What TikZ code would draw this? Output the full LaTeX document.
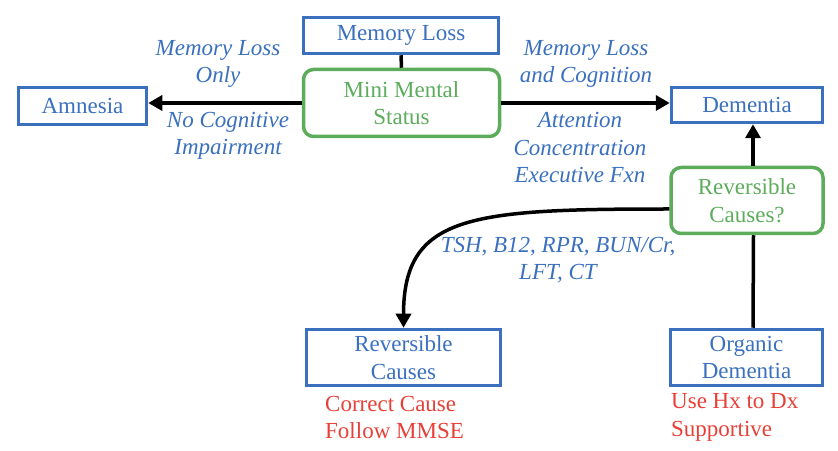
\documentclass[tikz,border=0pt]{standalone}
\usepackage{fontspec}
\setmainfont{Liberation Serif}
\usetikzlibrary{arrows.meta}
\definecolor{boxblue}{RGB}{58,112,190}
\definecolor{boxgreen}{RGB}{92,172,92}
\definecolor{todored}{RGB}{232,64,56}
\newcommand{\chartsize}{\fontsize{23}{27.5}\selectfont}
\tikzset{
  bluebox/.style={draw=boxblue, line width=3.5pt, text=boxblue, inner sep=0pt, align=center},
  greenbox/.style={draw=boxgreen, line width=3.5pt, rounded corners=10pt, text=boxgreen, inner sep=0pt, align=center},
  note/.style={text=boxblue, font=\chartsize\itshape, align=center, inner sep=0pt},
  todo/.style={text=todored, align=left, anchor=west, inner sep=0pt},
  link/.style={line width=3.5pt},
  arr/.style={line width=3.5pt, -{Triangle[length=14pt, width=15pt]}}
}
\begin{document}
\begin{tikzpicture}[x=1pt, y=1pt, font=\chartsize]
\useasboundingbox (0,0) rectangle (838,450);
\node[bluebox, minimum width=195pt, minimum height=36pt] (mem) at (401,414.5) {Memory Loss};
\node[greenbox, minimum width=196pt, minimum height=67pt] (mms) at (401.5,347) {Mini Mental\\Status};
\node[bluebox, minimum width=128pt, minimum height=37pt] (amn) at (82.5,344) {Amnesia};
\node[bluebox, minimum width=151pt, minimum height=35pt] (dem) at (747,345) {Dementia};
\node[greenbox, minimum width=152pt, minimum height=66pt] (revq) at (747,249.5) {Reversible\\Causes?};
\node[bluebox, minimum width=194pt, minimum height=56pt] (revc) at (403.5,92.5) {Reversible\\Causes};
\node[bluebox, minimum width=152pt, minimum height=56pt] (org) at (746.5,92.5) {Organic\\Dementia};
\node[note] (only) at (218,386) {Memory Loss\\Only};
\node[note] (nocog) at (228,314) {No Cognitive\\Impairment};
\node[note] (cogn) at (586,386) {Memory Loss\\and Cognition};
\node[note] (attn) at (580,302) {Attention\\Concentration\\Executive Fxn};
\node[note] (labs) at (558,190) {TSH, B12, RPR, BUN/Cr,\\LFT, CT};
\node[todo] (fix) at (325,32.5) {Correct Cause\\Follow MMSE};
\node[todo] (supp) at (671,32.5) {Use Hx to Dx\\Supportive};
\draw[link] (mem.south) -- (mms.north);
\draw[arr] (mms.west) -- (mms.west -| amn.east);
\draw[arr] (mms.east) -- (mms.east -| dem.west);
\draw[arr] ([xshift=6pt]revq.north) -- ([xshift=6pt]dem.south);
\draw[link] ([xshift=6.5pt]org.north) -- ([xshift=6.5pt]revq.south);
\draw[arr] ([yshift=-8.5pt]revq.west) .. controls +(-199,0) and +(0,113) .. (revc.north);
\end{tikzpicture}
\end{document}
